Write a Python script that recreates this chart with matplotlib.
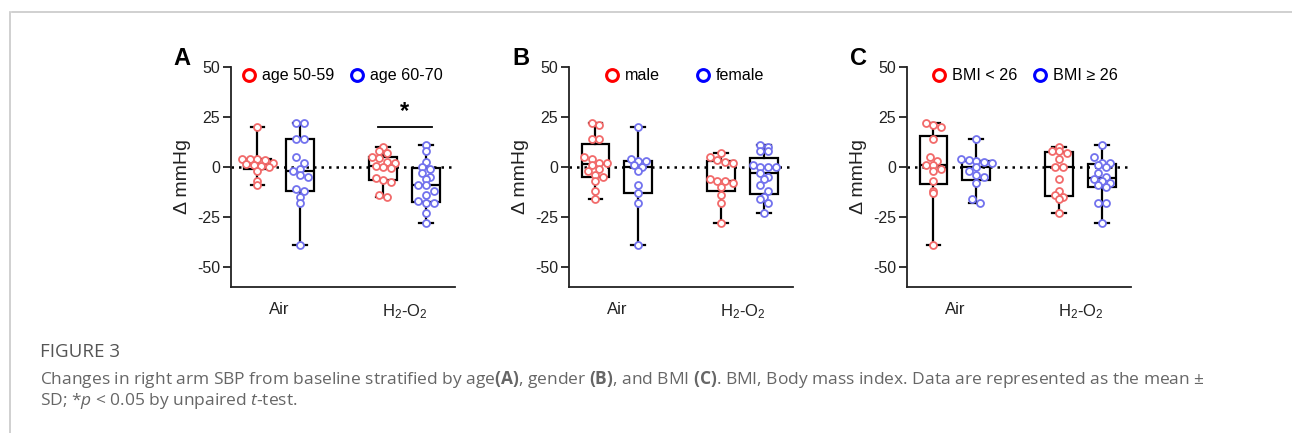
# -*- coding: utf-8 -*-
"""
Change in right arm SBP from baseline, stratified by age, gender and BMI.
Box (min-max whiskers) + scatter, three panels, with figure caption.
"""
import numpy as np
import matplotlib
matplotlib.use("Agg")
import matplotlib.pyplot as plt
from matplotlib.lines import Line2D

plt.rcParams['font.family'] = ['Liberation Sans', 'DejaVu Sans']
plt.rcParams['mathtext.default'] = 'regular'
plt.rcParams['mathtext.fontset'] = 'custom'
plt.rcParams['mathtext.rm'] = 'Open Sans'
plt.rcParams['mathtext.it'] = 'Open Sans:italic'
plt.rcParams['mathtext.bf'] = 'Open Sans:bold'

# ---- data ----
groups = ["Air", "H$_2$-O$_2$"]

# panel A: age
age_50_59_air = [20, 4, 4, 4, 3.5, 2, 1.5, 1, 0.5, 0, -2, -7, -9]
age_60_70_air = [22, 22, 14, 14, 5, 2, -1, -2, -4, -5, -11, -12, -15, -18, -39]
age_50_59_h2 = [10, 8, 7, 5, 4.5, 2.5, 2, 0.5, 0, -0.5, -5.5, -6.5, -7.5, -14, -15]
age_60_70_h2 = [11, 8, 2.5, 0, -1, -3, -5, -6, -9, -9, -12, -14, -17, -18, -18, -23, -28]

# panel B: gender
male_air = [22, 21, 14, 14, 5, 4, 2, 2, 1, -1, -2, -4, -5, -7, -12, -16]
female_air = [20, 4, 3, 3, 1, 0, -2, -9, -13, -18, -39]
male_h2 = [7, 5, 3.5, 2.5, 2, -6, -7, -7, -8, -10, -14, -18, -28]
female_h2 = [11, 10, 8, 8, 1, 0, 0, 0, -3, -5, -6, -9, -12, -15, -16, -18, -23]

# panel C: BMI
bmi_low_air = [22, 21, 20, 14, 5, 3, 1, 1, -1, -2, -7, -12, -13, -39]
bmi_high_air = [14, 4, 3.5, 3, 2.5, 2, 0, -2, -4, -5, -8, -16, -18]
bmi_low_h2 = [10, 8, 8, 7, 4, 0, 0, -6, -12, -14, -15, -16, -23]
bmi_high_h2 = [11, 5, 2, 2, 1, 0, -3, -5, -6, -7, -8, -9, -10, -18, -18, -28]

panels = [
    ("A", ["age 50-59", "age 60-70"], [[age_50_59_air, age_60_70_air], [age_50_59_h2, age_60_70_h2]]),
    ("B", ["male", "female"], [[male_air, female_air], [male_h2, female_h2]]),
    ("C", ["BMI < 26", "BMI \u2265 26"], [[bmi_low_air, bmi_high_air], [bmi_low_h2, bmi_high_h2]]),
]
col_spacing = [0.95, 2.18, 0.96]
legend_x = [0.044, 0.155, 0.106]

red_pt = '#f26a6a'
blue_pt = '#7272ee'
XPX = 125.8   # px per x unit
YPX = 2.0     # px per y unit
DIAM = 7.0    # marker footprint in px


def box_stats(vals):
    v = np.asarray(vals, float)
    q1, med, q3 = np.percentile(v, [25, 50, 75], method='weibull')
    return dict(med=med, q1=q1, q3=q3, whislo=v.min(), whishi=v.max(), fliers=[])


def swarm(vals):
    # group points into rows and spread each row symmetrically (GraphPad style)
    v = np.asarray(vals, float)
    rows = np.round(v * YPX / DIAM)
    off = np.zeros(len(v))
    for r in np.unique(rows):
        idx = np.where(rows == r)[0]
        n = len(idx)
        off[idx] = (np.arange(n) - (n - 1) / 2) * DIAM * 1.1 / XPX
    return off


fig = plt.figure(figsize=(12.92, 4.33), dpi=100)
lefts = [231 / 1292, 569 / 1292, 907 / 1292]

for k, (letter, names, data) in enumerate(panels):
    ax = fig.add_axes([lefts[k], 1 - 287 / 433, 224 / 1292, 220 / 433])
    ax.set_xlim(-0.38, 1.40)
    ax.set_ylim(-60, 50)
    ax.axhline(0, color='k', ls=(0, (1, 2)), lw=1.8, zorder=1)

    stats, pos = [], []
    for g in range(2):
        for s in range(2):
            stats.append(box_stats(data[g][s]))
            pos.append(g + (-0.17 if s == 0 else 0.17))
    ax.bxp(stats, positions=pos, widths=0.22, showfliers=False, patch_artist=True,
           boxprops=dict(facecolor='none', edgecolor='k', lw=1.6),
           medianprops=dict(color='k', lw=1.6),
           whiskerprops=dict(color='k', lw=1.6),
           capprops=dict(color='k', lw=1.6), capwidths=0.11, zorder=2)

    for g in range(2):
        for s in range(2):
            vals = data[g][s]
            x = pos[g * 2 + s] + swarm(vals)
            ax.plot(x, vals, 'o', ms=5.0, mfc='white', mec=red_pt if s == 0 else blue_pt,
                    mew=1.3, ls='none', zorder=3)

    ax.spines['top'].set_visible(False)
    ax.spines['right'].set_visible(False)
    for sp in ['left', 'bottom']:
        ax.spines[sp].set_color('#222222')
        ax.spines[sp].set_linewidth(1.3)
    ax.set_yticks([-50, -25, 0, 25, 50])
    ax.set_yticklabels(['-50', '-25', '0', '25', '50'])
    ax.set_xticks([0, 1])
    ax.set_xticklabels(groups)
    ax.tick_params(axis='y', length=6, width=1.3, color='#222222', labelsize=11.5,
                   labelcolor='#222222', pad=2)
    ax.tick_params(axis='x', length=0, labelsize=12, labelcolor='#222222', pad=11)
    ax.set_ylabel('\u0394 mmHg', fontsize=14, color='#222222', labelpad=4)

    ax.text(-0.255, 1.09, letter, transform=ax.transAxes, fontsize=17,
            fontweight='bold', va='top', ha='left')

    handles = [Line2D([], [], marker='o', ls='none', ms=8.5, mfc='white', mec='#ff0000', mew=2.2),
               Line2D([], [], marker='o', ls='none', ms=8.5, mfc='white', mec='#0000ff', mew=2.2)]
    ax.legend(handles, names, ncol=2, frameon=False, loc='center left',
              bbox_to_anchor=(legend_x[k], 1 - 9 / 220), fontsize=11.6,
              handletextpad=0.29, columnspacing=col_spacing[k], handlelength=1.0,
              borderaxespad=0, borderpad=0)

    if letter == "A":
        # significance bar between the H2-O2 groups
        ax.plot([1 - 0.215, 1 + 0.215], [20, 20], color='k', lw=1.3)
        ax.text(1.0, 22, '*', ha='center', va='bottom', fontsize=17, fontweight='bold')

# frame lines of the figure box
fig.add_artist(Line2D([12 / 1292, 1], [1 - 12 / 433, 1 - 12 / 433], color='#c8c8c8', lw=1.2))
fig.add_artist(Line2D([10 / 1292, 10 / 1292], [0, 1 - 12 / 433], color='#c8c8c8', lw=1.2))

# caption
cap_font = ['Open Sans', 'DejaVu Sans']
fig.text(40 / 1292, 1 - 352 / 433, 'FIGURE 3', fontsize=13.5, color='#555555',
         family=cap_font, va='center')
fig.text(40 / 1292, 1 - 380 / 433,
         'Changes in right arm SBP from baseline stratified by age$\\mathbf{(A)}$, gender '
         '$\\mathbf{(B)}$, and BMI $\\mathbf{(C)}$. BMI, Body mass index. Data are '
         'represented as the mean \u00b1',
         fontsize=12.5, color='#666666', family=cap_font, va='center')
fig.text(40 / 1292, 1 - 401 / 433,
         'SD; *$\\mathit{p}$ < 0.05 by unpaired $\\mathit{t}$-test.',
         fontsize=12.5, color='#666666', family=cap_font, va='center')

fig.savefig('out.png', dpi=100)
